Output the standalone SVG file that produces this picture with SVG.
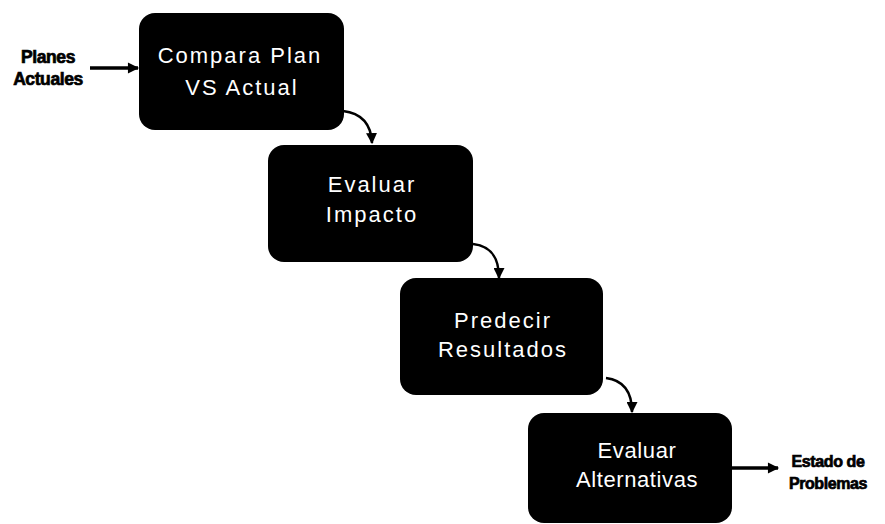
<svg xmlns="http://www.w3.org/2000/svg" width="885" height="524" viewBox="0 0 885 524">
  <style>
    .box { fill: #000; }
    .lbl { fill: #fff; font-family: "Liberation Sans", Arial, sans-serif; font-size: 22px; text-anchor: middle; letter-spacing: 2px; }
    .side { fill: #000; stroke: #000; stroke-width: 0.7px; font-family: "Liberation Sans", Arial, sans-serif; font-weight: bold; font-size: 16px; text-anchor: middle; letter-spacing: -0.4px; }
    .side.big { font-size: 17.5px; }
    .link { fill: none; stroke: #000; stroke-width: 2.5; marker-end: url(#head); }
    .straight { stroke-width: 3.5; marker-end: url(#headBig); }
  </style>
  <defs>
    <marker id="head" viewBox="0 0 10 10" refX="9" refY="5" markerWidth="4.4" markerHeight="4.4" orient="auto" markerUnits="strokeWidth">
      <path d="M0,0 L10,5 L0,10 Z" fill="#000"/>
    </marker>
    <marker id="headBig" viewBox="0 0 10 10" refX="9" refY="5" markerWidth="3.6" markerHeight="3.2" orient="auto" markerUnits="strokeWidth">
      <path d="M0,0 L10,5 L0,10 Z" fill="#000"/>
    </marker>
  </defs>

  <g id="connectors">
    <path class="link straight" d="M90,68 L138,68"/>
    <path class="link" d="M343,111 C360,113 371,122 372,143"/>
    <path class="link" d="M473,244 C490,246 499,256 499,278"/>
    <path class="link" d="M606,378 C622,380 632,390 632,412"/>
    <path class="link straight" d="M732,468 L778,468"/>
  </g>

  <g id="in-label">
    <text class="side big" x="48" y="63">Planes</text>
    <text class="side big" x="48" y="85">Actuales</text>
  </g>

  <g id="node-compara">
    <rect class="box" x="139" y="13" width="205" height="117" rx="16"/>
    <text class="lbl" x="240" y="63">Compara Plan</text>
    <text class="lbl" x="242" y="95">VS Actual</text>
  </g>

  <g id="node-impacto">
    <rect class="box" x="268" y="145" width="205" height="117" rx="16"/>
    <text class="lbl" x="372" y="192">Evaluar</text>
    <text class="lbl" x="372" y="222">Impacto</text>
  </g>

  <g id="node-predecir">
    <rect class="box" x="400" y="278" width="203" height="117" rx="16"/>
    <text class="lbl" x="503" y="328">Predecir</text>
    <text class="lbl" x="503" y="357">Resultados</text>
  </g>

  <g id="node-alternativas">
    <rect class="box" x="528" y="413" width="204" height="110" rx="16"/>
    <text class="lbl" x="637" y="458" style="letter-spacing:0.6px">Evaluar</text>
    <text class="lbl" x="637" y="487" style="letter-spacing:0.6px">Alternativas</text>
  </g>

  <g id="out-label">
    <text class="side" x="828" y="467">Estado de</text>
    <text class="side" x="828" y="489">Problemas</text>
  </g>
</svg>
